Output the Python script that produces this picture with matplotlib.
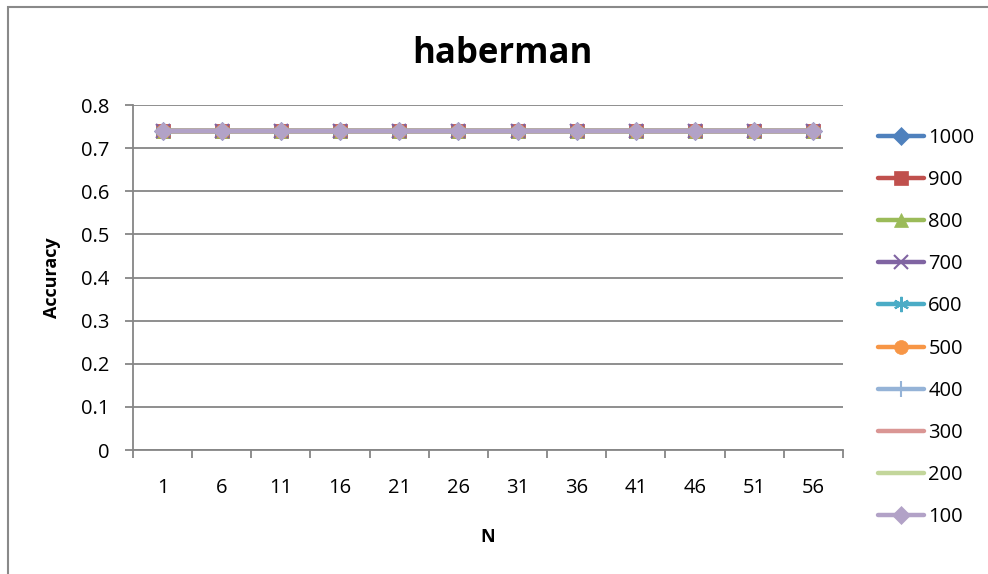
import matplotlib
matplotlib.use("Agg")
import matplotlib.pyplot as plt
from matplotlib.patches import Rectangle

plt.rcParams['font.family'] = ['Open Sans', 'DejaVu Sans']

# x categories (N) and accuracy per series (number of trees)
n_labels = ["1", "6", "11", "16", "21", "26", "31", "36", "41", "46", "51", "56"]
series_names = ["1000", "900", "800", "700", "600", "500", "400", "300", "200", "100"]

acc_1000 = [0.74, 0.74, 0.74, 0.74, 0.74, 0.74, 0.74, 0.74, 0.74, 0.74, 0.74, 0.74]
acc_900 = [0.74, 0.74, 0.74, 0.74, 0.74, 0.74, 0.74, 0.74, 0.74, 0.74, 0.74, 0.74]
acc_800 = [0.74, 0.74, 0.74, 0.74, 0.74, 0.74, 0.74, 0.74, 0.74, 0.74, 0.74, 0.74]
acc_700 = [0.74, 0.74, 0.74, 0.74, 0.74, 0.74, 0.74, 0.74, 0.74, 0.74, 0.74, 0.74]
acc_600 = [0.74, 0.74, 0.74, 0.74, 0.74, 0.74, 0.74, 0.74, 0.74, 0.74, 0.74, 0.74]
acc_500 = [0.74, 0.74, 0.74, 0.74, 0.74, 0.74, 0.74, 0.74, 0.74, 0.74, 0.74, 0.74]
acc_400 = [0.74, 0.74, 0.74, 0.74, 0.74, 0.74, 0.74, 0.74, 0.74, 0.74, 0.74, 0.74]
acc_300 = [0.74, 0.74, 0.74, 0.74, 0.74, 0.74, 0.74, 0.74, 0.74, 0.74, 0.74, 0.74]
acc_200 = [0.74, 0.74, 0.74, 0.74, 0.74, 0.74, 0.74, 0.74, 0.74, 0.74, 0.74, 0.74]
acc_100 = [0.74, 0.74, 0.74, 0.74, 0.74, 0.74, 0.74, 0.74, 0.74, 0.74, 0.74, 0.74]
y_ticks = [0, 0.1, 0.2, 0.3, 0.4, 0.5, 0.6, 0.7, 0.8]

all_series = [acc_1000, acc_900, acc_800, acc_700, acc_600,
              acc_500, acc_400, acc_300, acc_200, acc_100]
colors = ["#4F81BD", "#C0504D", "#9BBB59", "#8064A2", "#4BACC6",
          "#F79646", "#95B3D7", "#DA9694", "#C3D69B", "#B2A2C7"]
markers = ["D", "s", "^", "x", (6, 2, 0), "o", "+", "_", "_", "D"]
msizes = [9, 10, 10, 10, 11, 10, 12, 10, 10, 9]

fig = plt.figure(figsize=(9.88, 5.74), dpi=100)
ax = fig.add_axes([0.1346, 0.2160, 0.7186, 0.6010])

x = list(range(len(n_labels)))
for vals, name, c, m, ms in zip(all_series, series_names, colors, markers, msizes):
    thin = m in ("x", "+", "_") or isinstance(m, tuple)
    mew = 1.5 if thin else 0.5
    ax.plot(x, vals, color=c, lw=3.2, marker=m, ms=ms, mec=c, mfc=c,
            mew=mew, label=name, solid_capstyle='round')

grid_c = "#868686"
tick_fs = 14.5
ax.set_ylim(0, 0.8)
ax.set_xlim(-0.5, len(n_labels) - 0.5)
ax.set_yticks(y_ticks)
ax.set_yticklabels([f"{v:g}" for v in y_ticks])
ax.yaxis.grid(True, color=grid_c, lw=1.3)
ax.set_axisbelow(True)

ax.set_xticks([i - 0.5 for i in range(len(n_labels) + 1)])
ax.set_xticklabels([])
ax.set_xticks(x, minor=True)
ax.set_xticklabels(n_labels, minor=True)
ax.tick_params(axis='x', which='minor', length=0, pad=20, labelsize=tick_fs)
ax.tick_params(axis='x', which='major', length=6, width=1.3, color=grid_c, direction='out')
ax.tick_params(axis='y', length=6, width=1.3, color=grid_c, pad=11, labelsize=tick_fs)

for s in ("top", "right"):
    ax.spines[s].set_visible(False)
for s in ("left", "bottom"):
    ax.spines[s].set_color(grid_c)
    ax.spines[s].set_linewidth(1.3)

ax.set_xlabel("N", fontsize=13, fontweight='bold', labelpad=22)
ax.set_ylabel("Accuracy", fontsize=13, fontweight='bold', labelpad=14)
fig.text(0.5090, 0.906, "haberman", ha='center', va='center',
         fontsize=25, fontweight='bold')

leg = ax.legend(loc='center left', bbox_to_anchor=(878 / 988, 0.4294),
                bbox_transform=fig.transFigure, frameon=False, fontsize=tick_fs,
                handlelength=2.3, handletextpad=0.2, borderpad=0,
                borderaxespad=0, labelspacing=1.1)

# outer chart border (extends past the right and bottom edges)
fig.patches.append(Rectangle((8 / 988, -0.1), 1.2, 1 - 7 / 574 + 0.1,
                             transform=fig.transFigure, fill=False,
                             edgecolor="#898989", lw=1.5))

fig.savefig("out.png", dpi=100)
